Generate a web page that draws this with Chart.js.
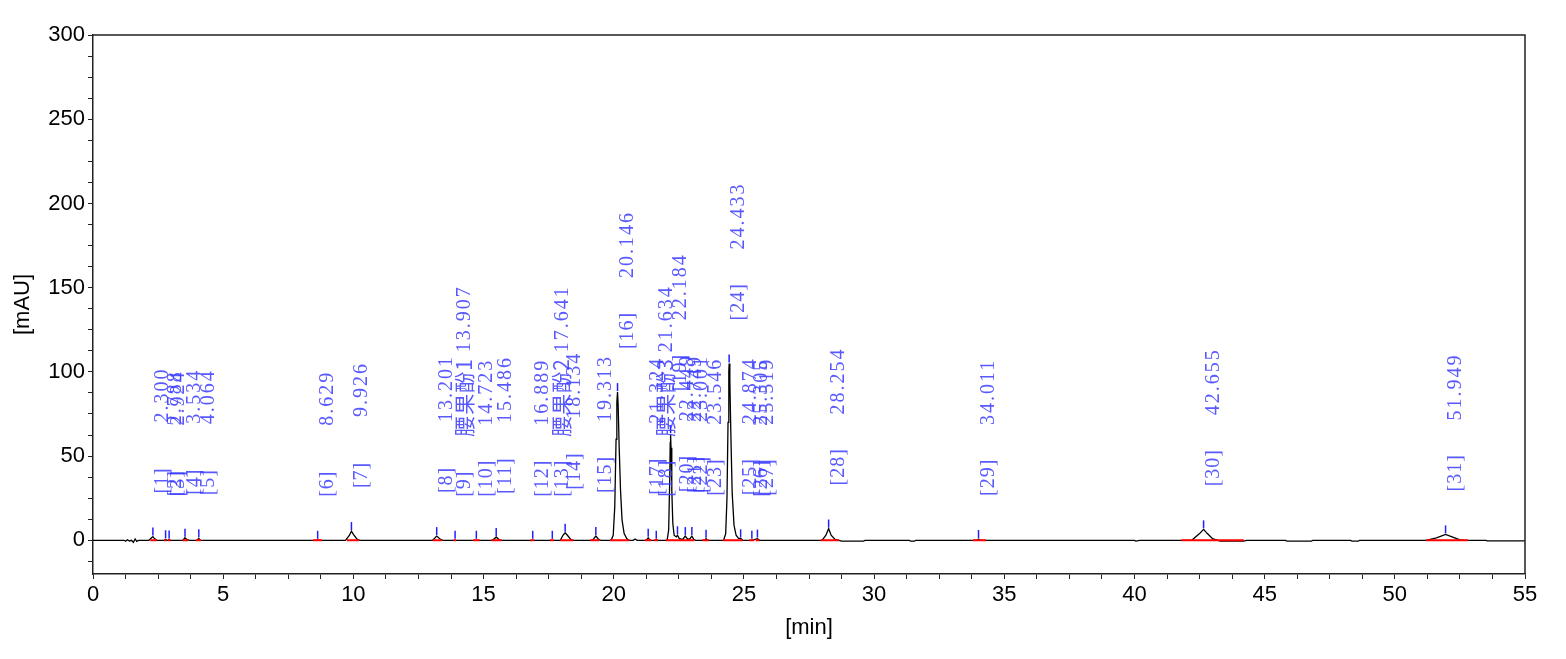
<!DOCTYPE html>
<html>
<head>
<meta charset="utf-8">
<script src="https://cdn.jsdelivr.net/npm/chart.js@4/dist/chart.umd.min.js"></script>
<style>
  html, body { margin: 0; padding: 0; background: #fff; }
  #wrap { width: 1566px; height: 659px; }
</style>
</head>
<body>
<div id="wrap"><canvas id="chrom"></canvas></div>
<script>
// chromatogram trace: time [min] / absorbance [mAU]
var traceTime = [0, 1.20, 1.25, 1.32, 1.40, 1.48, 1.55, 1.62, 1.68, 1.75, 2.15, 2.25, 2.30, 2.36, 2.45,
  2.75, 2.79, 2.84, 2.90, 2.92, 2.97, 3.45, 3.53, 3.60, 3.70, 4.00, 4.06, 4.12, 8.55, 8.63, 8.70,
  9.70, 9.85, 9.926, 10.00, 10.15, 10.25, 13.05, 13.201, 13.35, 13.45, 15.35, 15.486, 15.60, 15.70,
  17.95, 18.05, 18.134, 18.22, 18.35, 18.45, 19.18, 19.313, 19.42, 19.50,
  19.90, 19.98, 20.04, 20.09, 20.12, 20.146, 20.17, 20.21, 20.26, 20.32, 20.40, 20.50, 20.58,
  20.75, 20.82, 20.90, 21.25, 21.324, 21.40, 21.60, 21.634, 21.70,
  22.05, 22.11, 22.15, 22.17, 22.184, 22.20, 22.23, 22.27, 22.32, 22.40, 22.449, 22.52, 22.65,
  22.745, 22.85, 22.93, 23.001, 23.08, 23.15, 23.50, 23.546, 23.60,
  24.22, 24.30, 24.35, 24.39, 24.42, 24.433, 24.46, 24.50, 24.55, 24.62, 24.70, 24.80, 24.874, 24.95,
  25.30, 25.519, 25.60, 28.00, 28.15, 28.254, 28.35, 28.50, 28.65, 28.75, 29.60, 29.65,
  31.35, 31.40, 31.55, 31.60, 33.95, 34.011, 34.08, 40.00, 40.05, 40.20,
  42.20, 42.50, 42.655, 42.80, 43.00, 43.20, 43.30, 44.20, 44.30, 45.80, 45.85, 46.80, 46.85,
  48.30, 48.35, 48.60, 48.65, 51.20, 51.60, 51.949, 52.20, 52.50, 52.70, 53.50, 53.55, 55];
var traceAbs = [0, 0, -0.5, 0.3, -0.4, 0, -1.2, 0.8, -0.6, 0, 0, 1.5, 2.2, 1.0, 0,
  0, 0.6, 0, 0, 0.5, 0, 0, 1.5, 0.5, 0, 0, 1.2, 0, 0, 0.3, 0,
  0, 3, 5.5, 3.5, 0.5, 0, 0, 2.5, 0.5, 0, 0, 2.0, 0.3, 0,
  0, 3, 4.5, 3, 0.5, 0, 0, 2.5, 0.5, 0,
  0, 3, 20, 60, 82, 88, 80, 55, 30, 12, 4, 1, 0,
  0, 0.8, 0, 0, 1.5, 0, 0, 0.3, 0,
  0, 6, 35, 58, 63, 55, 30, 10, 3, 2, 3, 1, 0.5,
  2.5, 0.5, 1, 2.5, 0.5, 0, 0, 1, 0,
  0, 4, 25, 70, 100, 105, 95, 62, 28, 9, 3, 1, 1.2, 0,
  0, 1, 0, 0, 3, 7, 3, 0.5, 0, -0.5, -0.5, 0,
  0, -0.5, -0.5, 0, 0, 0.8, 0, 0, -0.5, 0,
  0, 4, 6.5, 4, 1, 0, -0.5, -0.5, 0, 0, -0.5, -0.5, 0,
  0, -0.5, -0.5, 0, 0, 1.5, 3.5, 2, 0.3, 0, 0, -0.3, -0.3];

// integrated peaks
var peakNo = [1, 2, 3, 4, 5, 6, 7, 8, 9, 10, 11, 12, 13, 14, 15, 16, 17, 18, 19, 20, 21, 22, 23, 24, 25, 26, 27, 28, 29, 30, 31];
var peakTime = [2.300, 2.788, 2.924, 3.534, 4.064, 8.629, 9.926, 13.201, 13.907, 14.723, 15.486, 16.889, 17.641, 18.134, 19.313,
  20.146, 21.324, 21.634, 22.184, 22.449, 22.749, 23.001, 23.546, 24.433, 24.874, 25.305, 25.519, 28.254, 34.011, 42.655, 51.949];
var peakTimeLabel = ['2.300', '2.788', '2.924', '3.534', '4.064', '8.629', '9.926', '13.201', '13.907', '14.723', '15.486', '16.889', '17.641', '18.134', '19.313',
  '20.146', '21.324', '21.634', '22.184', '22.449', '22.749', '23.001', '23.546', '24.433', '24.874', '25.305', '25.519', '28.254', '34.011', '42.655', '51.949'];
var peakHeight = [2.2, 0.6, 0.5, 1.5, 1.2, 0.3, 5.5, 2.5, 0.3, 0.3, 2.0, 0.3, 0.3, 4.5, 2.5,
  88, 1.5, 0.3, 63, 3, 2.5, 2.5, 1, 105, 1.2, 0.3, 1, 7, 0.8, 6.5, 3.5];
var peakName = ['', '', '', '', '', '', '', '', '腰果酚1', '', '', '', '腰果酚2', '', '',
  '', '', '腰果酚3', '', '', '', '', '', '', '', '', '', '', '', '', ''];

// integration baselines (start / end time)
var baseStart = [2.20, 2.72, 2.88, 3.45, 3.95, 8.45, 9.75, 13.05, 13.85, 14.60, 15.30, 16.80, 17.55, 17.95, 19.10, 19.85,
  21.20, 21.55, 22.00, 22.50, 22.85, 23.40, 24.20, 24.80, 25.20, 25.45, 27.95, 33.80, 41.80, 51.20];
var baseEnd = [2.45, 2.82, 2.98, 3.65, 4.15, 8.80, 10.20, 13.40, 13.95, 14.85, 15.70, 16.95, 17.70, 18.45, 19.45, 20.60,
  21.45, 21.70, 22.50, 22.85, 23.10, 23.65, 24.80, 24.95, 25.40, 25.60, 28.65, 34.30, 44.20, 52.80];

var xTickLabels = [0, 5, 10, 15, 20, 25, 30, 35, 40, 45, 50, 55];
var yTickLabels = [0, 50, 100, 150, 200, 250, 300];

var tracePts = traceTime.map(function (t, i) { return { x: t, y: traceAbs[i] }; });
var basePts = [];
baseStart.forEach(function (s, i) {
  basePts.push({ x: s, y: 0 }, { x: baseEnd[i], y: 0 }, { x: baseEnd[i], y: null });
});

function minorTicks(lo, hi, step) {
  var out = [];
  for (var v = lo; v <= hi + 1e-9; v += step) out.push({ value: v });
  return out;
}

var labelFont = "20px 'Liberation Serif'";
var nameFont = "21px 'Noto Sans CJK SC'";

var peakMarks = {
  id: 'peakMarks',
  afterDatasetsDraw: function (chart) {
    var ctx = chart.ctx, xs = chart.scales.x, ys = chart.scales.y, area = chart.chartArea;
    ctx.save();
    // frame
    ctx.strokeStyle = '#222';
    ctx.lineWidth = 1.5;
    ctx.beginPath();
    ctx.moveTo(area.left, area.top);
    ctx.lineTo(area.right, area.top);
    ctx.lineTo(area.right, area.bottom);
    ctx.stroke();
    // apex ticks
    ctx.strokeStyle = '#2020ff';
    ctx.lineWidth = 1.5;
    peakTime.forEach(function (t, i) {
      var px = xs.getPixelForValue(t), py = ys.getPixelForValue(peakHeight[i]);
      ctx.beginPath();
      ctx.moveTo(px, py - 1);
      ctx.lineTo(px, py - 9);
      ctx.stroke();
    });
    // rotated peak labels
    ctx.fillStyle = 'rgba(60,60,255,0.85)';
    ctx.textBaseline = 'top';
    ctx.textAlign = 'left';
    peakTime.forEach(function (t, i) {
      var px = xs.getPixelForValue(t);
      var py = ys.getPixelForValue(peakHeight[i]) - 43;
      ctx.save();
      ctx.translate(px, py);
      ctx.rotate(-Math.PI / 2);
      ctx.font = labelFont;
      ctx.letterSpacing = '1px';
      ctx.fillText('[' + peakNo[i] + ']', 0, 0);
      var off = 71;
      if (peakName[i]) {
        ctx.font = nameFont;
        ctx.letterSpacing = '1px';
        ctx.fillText(peakName[i], 60, -2);
        off = 60 + ctx.measureText(peakName[i]).width + 6;
        ctx.font = labelFont;
      }
      ctx.letterSpacing = '2px';
      ctx.fillText(peakTimeLabel[i], off, 0);
      ctx.restore();
    });
    ctx.restore();
  }
};

var tickFont = { family: "'Liberation Sans', Arial, sans-serif", size: 22 };

new Chart(document.getElementById('chrom'), {
  type: 'line',
  data: {
    datasets: [{
      label: 'baseline',
      data: basePts,
      borderColor: '#ff0000',
      borderWidth: 2,
      pointRadius: 0,
      spanGaps: false
    }, {
      label: 'trace',
      data: tracePts,
      borderColor: '#000',
      borderWidth: 1.3,
      pointRadius: 0,
      tension: 0
    }]
  },
  options: {
    responsive: true,
    maintainAspectRatio: false,
    animation: false,
    layout: { padding: { top: 35, right: 41, left: 0, bottom: 0 } },
    plugins: { legend: { display: false }, tooltip: { enabled: false } },
    scales: {
      x: {
        type: 'linear',
        min: 0,
        max: 55,
        afterBuildTicks: function (s) { s.ticks = minorTicks(0, 55, 1.25); },
        afterFit: function (s) { s.height = 85; },
        ticks: {
          autoSkip: false,
          maxRotation: 0,
          padding: 3,
          color: '#000',
          font: tickFont,
          callback: function (v) { return xTickLabels.indexOf(v) >= 0 ? String(v) : ''; }
        },
        grid: { drawOnChartArea: false, tickLength: 5, color: '#222' },
        border: { color: '#222', width: 1.5 },
        title: { display: true, text: '[min]', color: '#000', font: tickFont, padding: { bottom: 18 } }
      },
      y: {
        min: -20,
        max: 300,
        afterBuildTicks: function (s) { s.ticks = minorTicks(-12.5, 300, 12.5); },
        afterFit: function (s) { s.width = 93; },
        ticks: {
          autoSkip: false,
          padding: 3,
          color: '#000',
          font: tickFont,
          callback: function (v) { return yTickLabels.indexOf(v) >= 0 ? String(v) : ''; }
        },
        grid: { drawOnChartArea: false, tickLength: 5, color: '#222' },
        border: { color: '#222', width: 1.5 },
        title: { display: true, text: '[mAU]', color: '#000', font: tickFont, padding: { top: 10 } }
      }
    }
  },
  plugins: [peakMarks]
});
</script>
</body>
</html>
